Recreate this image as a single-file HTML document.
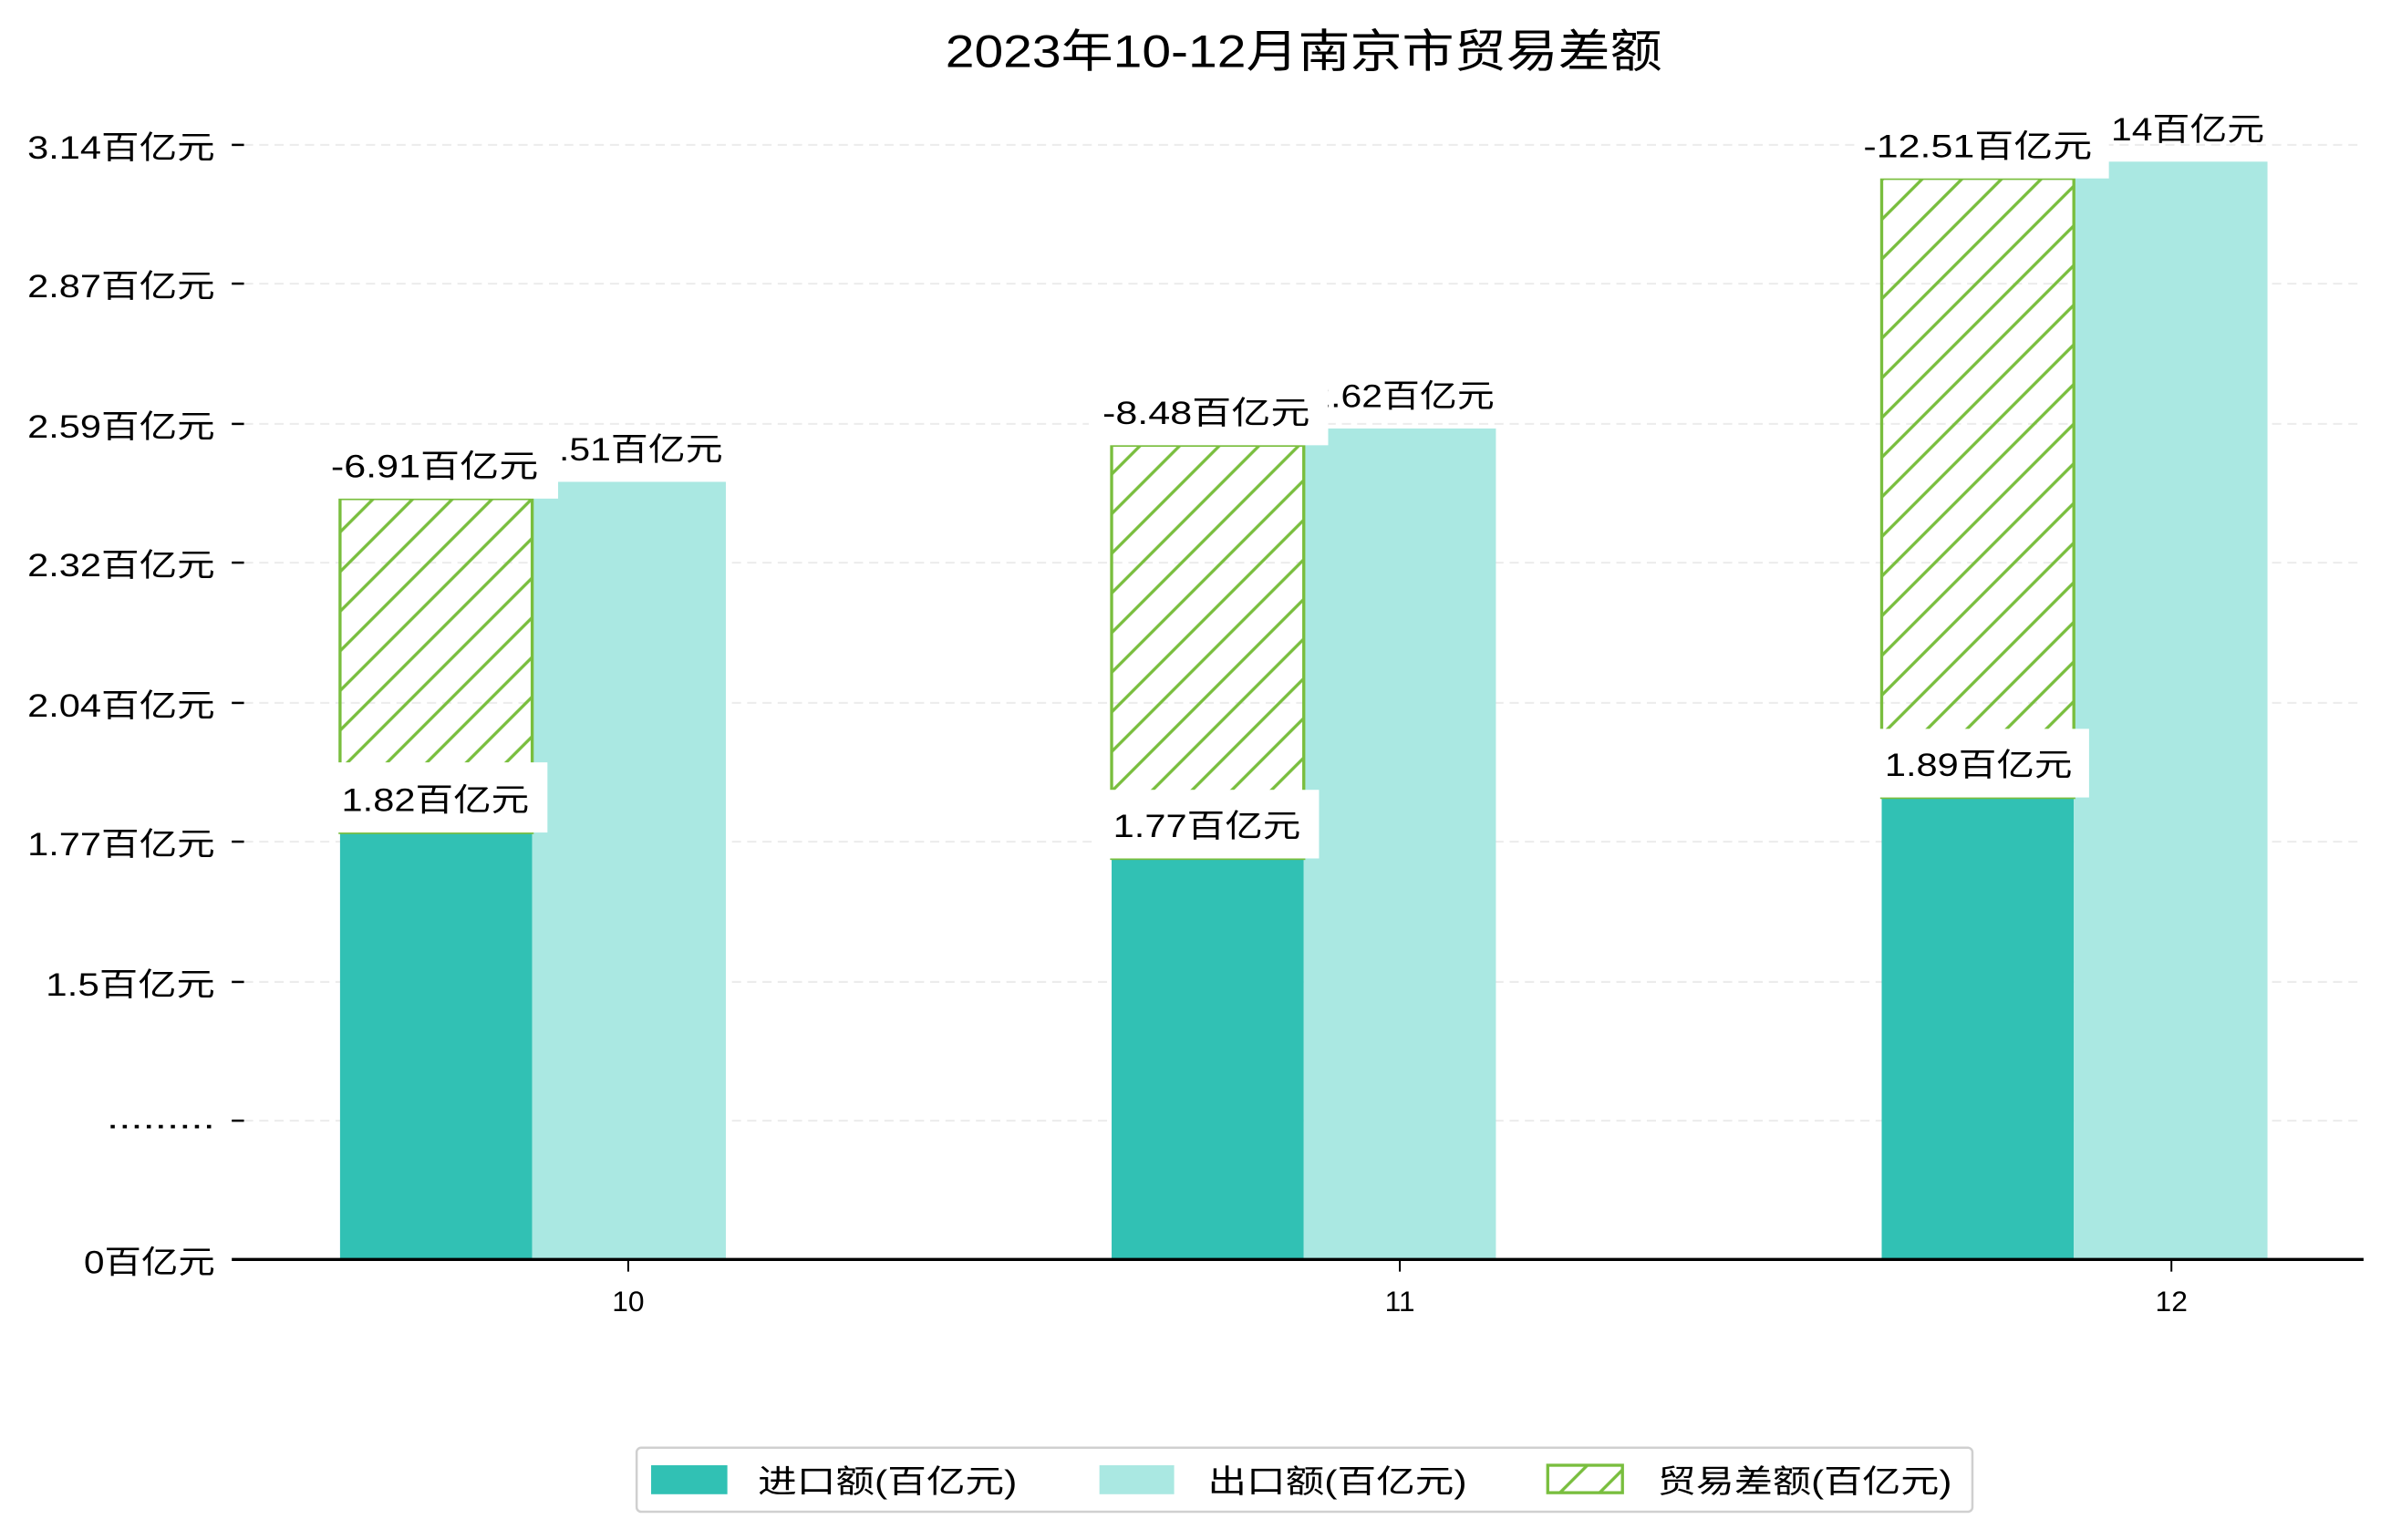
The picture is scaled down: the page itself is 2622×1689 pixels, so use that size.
<!DOCTYPE html>
<html><head><meta charset="utf-8"><style>
html,body{margin:0;padding:0;background:#fff}
svg{display:block}
text{font-family:"Liberation Sans","Noto Sans CJK SC",sans-serif;fill:#000}
</style></head><body>
<svg width="2622" height="1689" viewBox="0 0 1568 1010" xmlns="http://www.w3.org/2000/svg">
<defs>
<pattern id="h" patternUnits="userSpaceOnUse" width="26" height="26">
<path d="M-2,28 L28,-2 M-15,15 L15,-15 M11,41 L41,11" stroke="#79be3e" stroke-width="2"/>
</pattern>
</defs>
<text x="620" y="44" textLength="470" lengthAdjust="spacingAndGlyphs" style="font-size:30px">2023年10-12月南京市贸易差额</text>
<g stroke="#ececec" stroke-width="1.2" stroke-dasharray="6,4">
<line x1="160" x2="1550" y1="95" y2="95"/><line x1="160" x2="1550" y1="186" y2="186"/>
<line x1="160" x2="1550" y1="278" y2="278"/><line x1="160" x2="1550" y1="369" y2="369"/>
<line x1="160" x2="1550" y1="461" y2="461"/><line x1="160" x2="1550" y1="552" y2="552"/>
<line x1="160" x2="1550" y1="644" y2="644"/><line x1="160" x2="1550" y1="735" y2="735"/>
</g>
<g stroke="#000" stroke-width="1.5">
<line x1="152" x2="160" y1="95" y2="95"/><line x1="152" x2="160" y1="186" y2="186"/>
<line x1="152" x2="160" y1="278" y2="278"/><line x1="152" x2="160" y1="369" y2="369"/>
<line x1="152" x2="160" y1="461" y2="461"/><line x1="152" x2="160" y1="552" y2="552"/>
<line x1="152" x2="160" y1="644" y2="644"/><line x1="152" x2="160" y1="735" y2="735"/>
</g>
<g style="font-size:21px">
<text x="18" y="104" textLength="123" lengthAdjust="spacingAndGlyphs">3.14百亿元</text>
<text x="18" y="195" textLength="123" lengthAdjust="spacingAndGlyphs">2.87百亿元</text>
<text x="18" y="287" textLength="123" lengthAdjust="spacingAndGlyphs">2.59百亿元</text>
<text x="18" y="378" textLength="123" lengthAdjust="spacingAndGlyphs">2.32百亿元</text>
<text x="18" y="470" textLength="123" lengthAdjust="spacingAndGlyphs">2.04百亿元</text>
<text x="18" y="561" textLength="123" lengthAdjust="spacingAndGlyphs">1.77百亿元</text>
<text x="30" y="653" textLength="111" lengthAdjust="spacingAndGlyphs">1.5百亿元</text>
<text x="70" y="740" textLength="71" lengthAdjust="spacingAndGlyphs">.........</text>
<text x="55" y="835" textLength="86" lengthAdjust="spacingAndGlyphs">0百亿元</text>
</g>
<rect x="223" y="546" width="126" height="280" fill="#31c1b4"/>
<rect x="349" y="316" width="127" height="510" fill="#aae8e2"/>
<rect x="729" y="563" width="126" height="263" fill="#31c1b4"/>
<rect x="855" y="281" width="126" height="545" fill="#aae8e2"/>
<rect x="1234" y="523" width="126" height="303" fill="#31c1b4"/>
<rect x="1360" y="106" width="127" height="720" fill="#aae8e2"/>
<g stroke="#79be3e" stroke-width="2">
<rect x="223" y="327" width="126" height="219" fill="url(#h)"/>
<rect x="729" y="292" width="126" height="271" fill="url(#h)"/>
<rect x="1234" y="117" width="126" height="406" fill="url(#h)"/>
</g>
<g style="font-size:21px">
<text x="353" y="302" textLength="121" lengthAdjust="spacingAndGlyphs">2.51百亿元</text>
<text x="859" y="267" textLength="121" lengthAdjust="spacingAndGlyphs">2.62百亿元</text>
<text x="1364" y="92" textLength="121" lengthAdjust="spacingAndGlyphs">3.14百亿元</text>
</g>
<g fill="#fff">
<rect x="208" y="284" width="158" height="43"/><rect x="210" y="500" width="149" height="46"/>
<rect x="714" y="249" width="157" height="43"/><rect x="716" y="518" width="149" height="45"/>
<rect x="1217" y="74" width="166" height="43"/><rect x="1222" y="478" width="148" height="45"/>
</g>
<g style="font-size:21px">
<text x="217" y="313" textLength="136" lengthAdjust="spacingAndGlyphs">-6.91百亿元</text>
<text x="224" y="532" textLength="123" lengthAdjust="spacingAndGlyphs">1.82百亿元</text>
<text x="723" y="278" textLength="136" lengthAdjust="spacingAndGlyphs">-8.48百亿元</text>
<text x="730" y="549" textLength="123" lengthAdjust="spacingAndGlyphs">1.77百亿元</text>
<text x="1222" y="103" textLength="150" lengthAdjust="spacingAndGlyphs">-12.51百亿元</text>
<text x="1236" y="509" textLength="123" lengthAdjust="spacingAndGlyphs">1.89百亿元</text>
</g>
<line x1="152" x2="1550" y1="826" y2="826" stroke="#000" stroke-width="2"/>
<g stroke="#000" stroke-width="1.2">
<line x1="412" x2="412" y1="826" y2="834"/><line x1="918" x2="918" y1="826" y2="834"/><line x1="1424" x2="1424" y1="826" y2="834"/>
</g>
<g text-anchor="middle" style="font-size:19px">
<text x="412" y="860">10</text><text x="918" y="860">11</text><text x="1424" y="860">12</text>
</g>
<rect x="417.5" y="949.5" width="876" height="42" rx="3" fill="#fff" stroke="#d0d0d0" stroke-width="1.5"/>
<rect x="427" y="961" width="50" height="19" fill="#31c1b4"/>
<rect x="721" y="961" width="49" height="19" fill="#aae8e2"/>
<rect x="1015" y="961" width="49" height="18" fill="url(#h)" stroke="#79be3e" stroke-width="2"/>
<g style="font-size:21px">
<text x="497" y="979" textLength="170" lengthAdjust="spacingAndGlyphs">进口额(百亿元)</text>
<text x="792" y="979" textLength="170" lengthAdjust="spacingAndGlyphs">出口额(百亿元)</text>
<text x="1087" y="979" textLength="193" lengthAdjust="spacingAndGlyphs">贸易差额(百亿元)</text>
</g>
</svg>
</body></html>
